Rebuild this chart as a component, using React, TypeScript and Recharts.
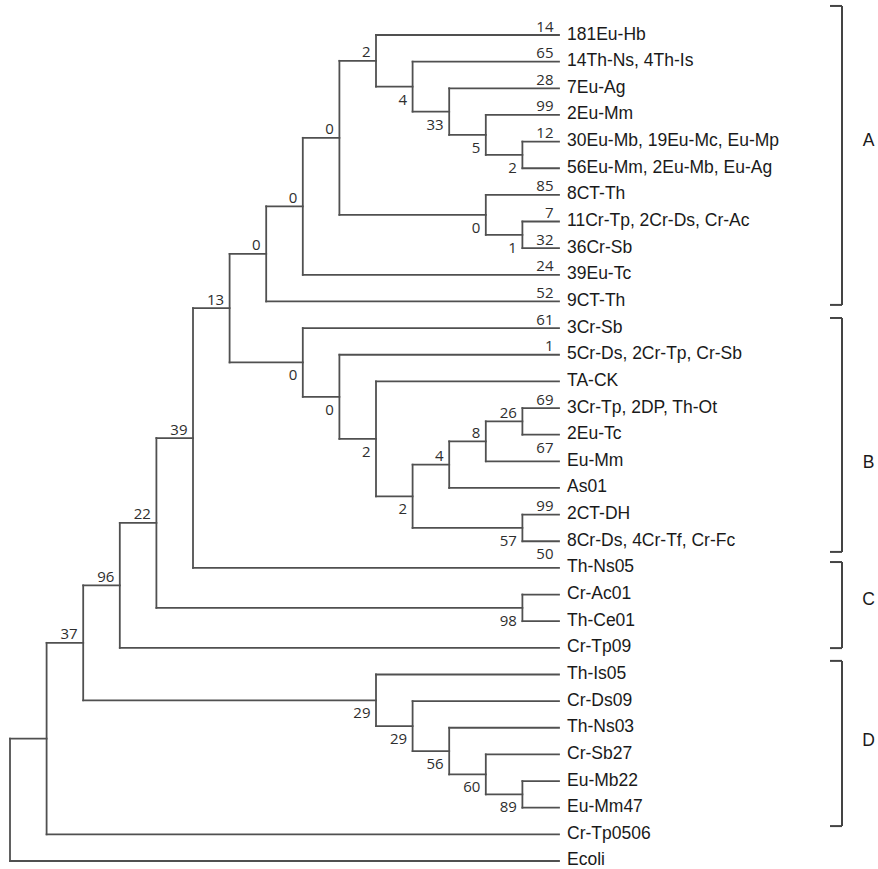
import React from 'react';
import { ScatterChart, Scatter, XAxis, YAxis, ReferenceLine } from 'recharts';

// ---- data ----
const leafNames: string[] = [
  '181Eu-Hb', '14Th-Ns, 4Th-Is', '7Eu-Ag', '2Eu-Mm', '30Eu-Mb, 19Eu-Mc, Eu-Mp',
  '56Eu-Mm, 2Eu-Mb, Eu-Ag', '8CT-Th', '11Cr-Tp, 2Cr-Ds, Cr-Ac', '36Cr-Sb', '39Eu-Tc',
  '9CT-Th', '3Cr-Sb', '5Cr-Ds, 2Cr-Tp, Cr-Sb', 'TA-CK', '3Cr-Tp, 2DP, Th-Ot',
  '2Eu-Tc', 'Eu-Mm', 'As01', '2CT-DH', '8Cr-Ds, 4Cr-Tf, Cr-Fc', 'Th-Ns05',
  'Cr-Ac01', 'Th-Ce01', 'Cr-Tp09', 'Th-Is05', 'Cr-Ds09', 'Th-Ns03', 'Cr-Sb27',
  'Eu-Mb22', 'Eu-Mm47', 'Cr-Tp0506', 'Ecoli',
];

const tipSupport: (number | null)[] = [
  14, 65, 28, 99, 12, null, 85, 7, 32, 24, 52, 61, 1, null, 69, 67, null, null, 99, 50,
  null, null, null, null, null, null, null, null, null, null, null, null,
];

// leaf indices whose tip value is written under the branch
const tipBelow: number[] = [15, 19];

// internal nodes: [id, upper child, lower child, bootstrap]
type Child = number | string;
const clades: [string, Child, Child, number | null][] = [
  ['n15', 4, 5, 2],
  ['n14', 3, 'n15', 5],
  ['n13', 2, 'n14', 33],
  ['n12', 1, 'n13', 4],
  ['n10', 0, 'n12', 2],
  ['n16', 7, 8, 1],
  ['n11', 6, 'n16', 0],
  ['n9', 'n10', 'n11', 0],
  ['n8', 'n9', 9, 0],
  ['n7', 'n8', 10, 0],
  ['b8', 14, 15, 26],
  ['b7', 'b8', 16, 8],
  ['b5', 'b7', 17, 4],
  ['b6', 18, 19, 57],
  ['b4', 'b5', 'b6', 2],
  ['b3', 13, 'b4', 2],
  ['b2', 12, 'b3', 0],
  ['b1', 11, 'b2', 0],
  ['n6', 'n7', 'b1', 13],
  ['n5', 'n6', 20, 39],
  ['c1', 21, 22, 98],
  ['n4', 'n5', 'c1', 22],
  ['n3', 'n4', 23, 96],
  ['d5', 28, 29, 89],
  ['d4', 27, 'd5', 60],
  ['d3', 26, 'd4', 56],
  ['d2', 25, 'd3', 29],
  ['d1', 24, 'd2', 29],
  ['n2', 'n3', 'd1', 37],
  ['n1', 'n2', 30, null],
  ['root', 'n1', 31, null],
];

// clade brackets (in leaf-row units)
const groupNames = ['A', 'B', 'C', 'D'];
const groupFrom = [-1.09, 10.62, 19.78, 23.49];
const groupTo = [10.13, 19.4, 23.01, 29.69];
const groupLabelAt = [3.94, 16.03, 21.17, 26.46];

// ---- layout helpers ----
const W = 878;
const H = 869;
const X0_PX = 10;
const X_UNIT = 36.6;
const Y0_PX = 35;
const Y_UNIT = 26.645;
const pxToX = (px: number) => (px - X0_PX) / X_UNIT;
const pxToY = (px: number) => (px - Y0_PX) / Y_UNIT;

const nodeMap = new Map<string, [string, Child, Child, number | null]>();
clades.forEach((c) => nodeMap.set(c[0], c));
const parentOf = new Map<string, string>();
clades.forEach((c) => {
  parentOf.set(String(c[1]), c[0]);
  parentOf.set(String(c[2]), c[0]);
});

const heightOf = (c: Child): number => {
  if (typeof c === 'number') return 0;
  const n = nodeMap.get(c)!;
  return 1 + Math.max(heightOf(n[1]), heightOf(n[2]));
};
const rowOf = (c: Child): number => {
  if (typeof c === 'number') return c;
  const n = nodeMap.get(c)!;
  return (rowOf(n[1]) + rowOf(n[2])) / 2;
};
const maxH = heightOf('root');
const colOf = (c: Child) => maxH - heightOf(c);

type Seg = { x1: number; y1: number; x2: number; y2: number };
const segments: Seg[] = [];
clades.forEach(([id, a, b]) => {
  const xn = colOf(id);
  segments.push({ x1: xn, y1: rowOf(a), x2: xn, y2: rowOf(b) });
  [a, b].forEach((ch) => {
    segments.push({ x1: xn, y1: rowOf(ch), x2: colOf(ch), y2: rowOf(ch) });
  });
});

const leafPoints = leafNames.map((name, i) => ({ x: colOf(i), y: i, name }));

const supportPoints: { x: number; y: number; label: string; below: boolean }[] = [];
clades.forEach(([id, , , s]) => {
  if (s === null) return;
  const p = nodeMap.get(parentOf.get(id)!)!;
  supportPoints.push({ x: colOf(id), y: rowOf(id), label: String(s), below: String(p[1]) !== id });
});
tipSupport.forEach((s, i) => {
  if (s === null) return;
  supportPoints.push({ x: colOf(i), y: i, label: String(s), below: tipBelow.includes(i) });
});

const bracketX = pxToX(842);
const bracketTickX = pxToX(830);
const letterX = pxToX(868.5);
const groupPoints = groupNames.map((g, i) => ({ x: letterX, y: groupLabelAt[i], name: g }));

const LINE = '#505050';
const LEAF_FONT = '"Liberation Sans", Arial, sans-serif';
const NUM_FONT = '"Open Sans", "DejaVu Sans", sans-serif';

export default function App() {
  return (
    <div style={{ position: 'absolute', left: 0, top: 0, background: '#fff' }}>
      <ScatterChart width={W} height={H} margin={{ top: 0, right: 0, bottom: 0, left: 0 }}>
        <XAxis
          type="number"
          dataKey="x"
          hide
          domain={[pxToX(0), pxToX(W)]}
          allowDataOverflow
        />
        <YAxis
          type="number"
          dataKey="y"
          hide
          reversed
          domain={[pxToY(0), pxToY(H)]}
          allowDataOverflow
        />
        {segments.map((s, i) => (
          <ReferenceLine
            key={'s' + i}
            segment={[{ x: s.x1, y: s.y1 }, { x: s.x2, y: s.y2 }]}
            stroke={LINE}
            strokeWidth={1.8}
            strokeLinecap="square"
          />
        ))}
        {groupNames.map((g, i) => (
          <React.Fragment key={'g' + g}>
            <ReferenceLine
              segment={[{ x: bracketTickX, y: groupFrom[i] }, { x: bracketX, y: groupFrom[i] }]}
              stroke="#444"
              strokeWidth={2}
            />
            <ReferenceLine
              segment={[{ x: bracketX, y: groupFrom[i] }, { x: bracketX, y: groupTo[i] }]}
              stroke="#444"
              strokeWidth={2}
            />
            <ReferenceLine
              segment={[{ x: bracketTickX, y: groupTo[i] }, { x: bracketX, y: groupTo[i] }]}
              stroke="#444"
              strokeWidth={2}
            />
          </React.Fragment>
        ))}
        <Scatter
          data={leafPoints}
          isAnimationActive={false}
          shape={(p: any) => (
            <text x={p.cx + 8} y={p.cy + 4.5} fontFamily={LEAF_FONT} fontSize={17.5} fill="#1a1a1a">
              {p.payload.name}
            </text>
          )}
        />
        <Scatter
          data={supportPoints}
          isAnimationActive={false}
          shape={(p: any) => (
            <text
              x={p.cx - 5.5}
              y={p.payload.below ? p.cy + 18 : p.cy - 3.5}
              textAnchor="end"
              fontFamily={NUM_FONT}
              fontSize={15}
              fill="#2e2e2e"
            >
              {p.payload.label}
            </text>
          )}
        />
        <Scatter
          data={groupPoints}
          isAnimationActive={false}
          shape={(p: any) => (
            <text x={p.cx} y={p.cy + 6} textAnchor="middle" fontFamily={LEAF_FONT} fontSize={17.5} fill="#1a1a1a">
              {p.payload.name}
            </text>
          )}
        />
      </ScatterChart>
    </div>
  );
}
